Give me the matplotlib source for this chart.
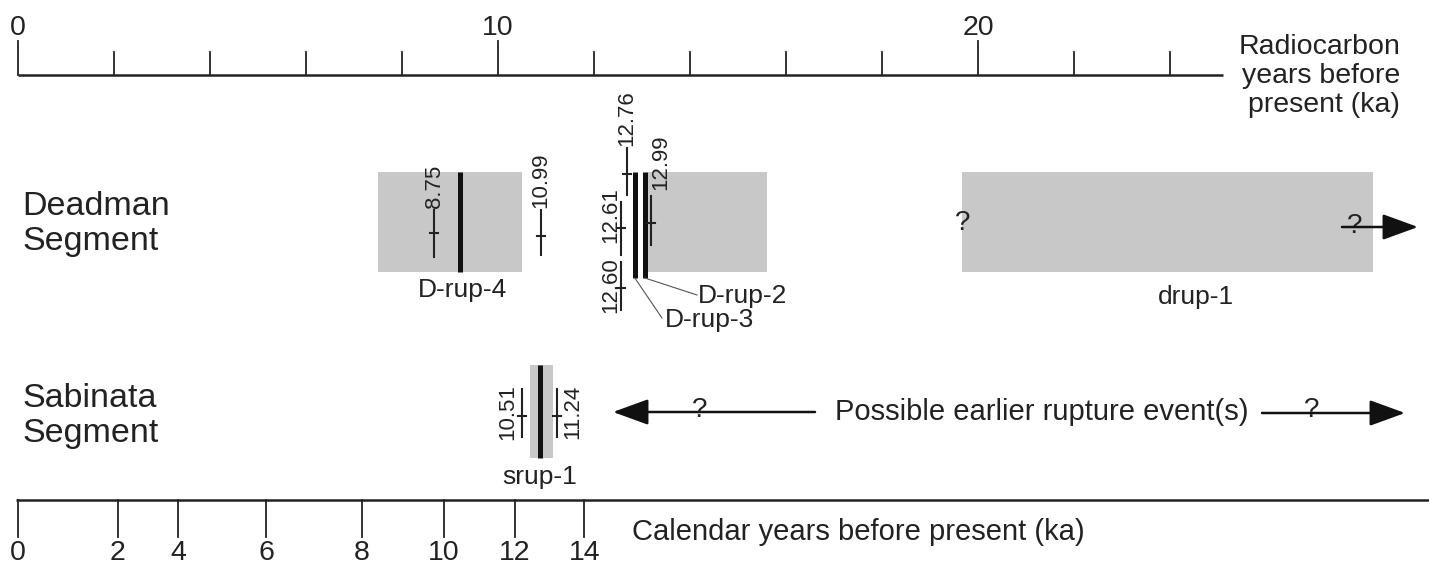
import matplotlib
matplotlib.use("Agg")
import matplotlib.pyplot as plt

plt.rcParams['font.family'] = ['Liberation Sans', 'DejaVu Sans']

# radiocarbon axis (ka)
rc_ticks = list(range(0, 25, 2))
rc_labels = [0, 10, 20]
rc_end = 25.1

# calendar axis: label and where it sits on the radiocarbon scale
cal_labels = [0, 2, 4, 6, 8, 10, 12, 14]
cal_pos = [0.0, 2.08, 3.33, 5.17, 7.17, 8.875, 10.35, 11.8]

# Deadman segment
dead_windows = [(7.5, 10.5), (13.1, 15.6), (19.67, 28.23)]
dead_events = ["D-rup-4", "D-rup-3", "D-rup-2"]
dead_event_age = [9.21, 12.85, 13.06]
dead_samples = ["8.75", "10.99", "12.76", "12.61", "12.60", "12.99"]
dead_sample_age = [8.67, 10.9, 12.69, 12.56, 12.56, 13.19]

# Sabinata segment
sab_window = (10.67, 11.15)
sab_event = "srup-1"
sab_event_age = 10.875
sab_samples = ["10.51", "11.24"]
sab_sample_age = [10.5, 11.23]

# layout (pixel rows, y grows downward)
W, H = 1429, 565
PPK = 48.0          # pixels per ka
X0 = 18.0           # pixel of 0 ka
INK = '#222222'
GRAY = '#c8c8c8'

def k(px):
    return (px - X0) / PPK

fig = plt.figure(figsize=(W / 100, H / 100), dpi=100)
ax = fig.add_axes([0, 0, 1, 1])
ax.set_xlim(k(0), k(W))
ax.set_ylim(H, 0)
ax.axis('off')

# ---- top radiocarbon axis
top_y = 75
ax.plot([0, rc_end], [top_y, top_y], color=INK, lw=1.8, solid_capstyle='butt')
for t in rc_ticks:
    y1 = 41 if t in rc_labels else 52
    ax.plot([t, t], [y1, top_y], color=INK, lw=1.3)
for t in rc_labels:
    ax.text(t, 28, str(t), ha='center', va='center', fontsize=20.5, color=INK)
ax.text(k(1400), 76, "Radiocarbon\nyears before\npresent (ka)", ha='right',
        va='center', fontsize=20.5, color=INK, linespacing=1.13)

# ---- bottom calendar axis
bot_y = 500
ax.plot([k(16), k(W)], [bot_y, bot_y], color=INK, lw=1.8, solid_capstyle='butt')
for lab, p in zip(cal_labels, cal_pos):
    ax.plot([p, p], [bot_y, 537], color=INK, lw=1.3)
    ax.text(p, 553, str(lab), ha='center', va='center', fontsize=20.5, color=INK)
ax.text(k(632), 532, "Calendar years before present (ka)", ha='left',
        va='center', fontsize=21, color=INK)

# ---- segment names
ax.text(k(22), 224, "Deadman\nSegment", ha='left', va='center', fontsize=24.5,
        color=INK, linespacing=1.15)
ax.text(k(22), 416, "Sabinata\nSegment", ha='left', va='center', fontsize=24.5,
        color=INK, linespacing=1.15)

# ---- Deadman windows
d_top, d_bot = 172, 272
for a, b in dead_windows:
    ax.fill_between([a, b], d_top, d_bot, color=GRAY, lw=0)

ev_y = [(172, 272), (172, 278), (172, 278)]
for age, (y1, y2) in zip(dead_event_age, ev_y):
    ax.plot([age, age], [y1, y2], color='#111111', lw=3.6, solid_capstyle='butt')

ax.text(k(462), 290, dead_events[0], ha='center', va='center', fontsize=19, color=INK)
# leader lines for D-rup-3 / D-rup-2
ax.plot([dead_event_age[1], k(662)], [278, 318], color='#555555', lw=0.8)
ax.text(k(665), 320, dead_events[1], ha='left', va='center', fontsize=19, color=INK)
ax.plot([dead_event_age[2], k(697)], [278, 295], color='#555555', lw=0.8)
ax.text(k(698), 296, dead_events[2], ha='left', va='center', fontsize=19, color=INK)

# sample markers: (line top, line bottom, tick row, label side, label y)
sample_lay = [
    (210, 257, 233, 'up', 208),
    (210, 255, 236, 'up', 208),
    (148, 195, 174, 'up', 146),
    (202, 255, 228, 'left', 215),
    (262, 310, 288, 'left', 285),
    (196, 245, 223, 'right', 162),
]

def draw_sample(age, lab, y1, y2, yt, side, ly, dx=10):
    ax.plot([age, age], [y1, y2], color=INK, lw=1.5)
    ax.plot([age - 4 / PPK, age + 4 / PPK], [yt, yt], color=INK, lw=1.5)
    if side == 'up':
        ax.text(age, ly, lab, rotation=90, ha='center', va='bottom',
                fontsize=16, color=INK)
    else:
        sx = -dx if side == 'left' else dx
        ax.text(age + sx / PPK, ly, lab, rotation=90, ha='center', va='center',
                fontsize=16, color=INK)

for age, lab, lay in zip(dead_sample_age, dead_samples, sample_lay):
    draw_sample(age, lab, *lay)

# drup-1 label, question marks and open-ended arrow
ax.text(k(1196), 297, "drup-1", ha='center', va='center', fontsize=19, color=INK)
ax.text(dead_windows[2][0], 223, "?", ha='center', va='center', fontsize=20, color=INK)
ax.text(k(1355), 226, "?", ha='center', va='center', fontsize=20, color=INK)
arrow = dict(arrowstyle='-|>,head_length=1.1,head_width=0.4', mutation_scale=20,
             lw=1.8, color='#111111', shrinkA=0, shrinkB=0)
ax.annotate('', xy=(k(1418), 227), xytext=(k(1342), 227), arrowprops=arrow)

# ---- Sabinata
s_top, s_bot = 365, 458
ax.fill_between(list(sab_window), s_top, s_bot, color=GRAY, lw=0)
ax.plot([sab_event_age, sab_event_age], [s_top, s_bot], color='#111111', lw=3.6,
        solid_capstyle='butt')
ax.text(sab_event_age, 477, sab_event, ha='center', va='center', fontsize=19, color=INK)
for age, lab, side, dx in zip(sab_sample_age, sab_samples, ['left', 'right'], [14, 16]):
    draw_sample(age, lab, 389, 437, 416, side, 412, dx)

# possible earlier ruptures
ax.annotate('', xy=(k(613), 412), xytext=(k(815), 412), arrowprops=arrow)
ax.text(k(700), 410, "?", ha='center', va='center', fontsize=20, color=INK)
ax.text(k(835), 412, "Possible earlier rupture event(s)", ha='left', va='center',
        fontsize=21, color=INK)
ax.annotate('', xy=(k(1405), 413), xytext=(k(1262), 413), arrowprops=arrow)
ax.text(k(1312), 410, "?", ha='center', va='center', fontsize=20, color=INK)

fig.savefig("out.png", dpi=100)
